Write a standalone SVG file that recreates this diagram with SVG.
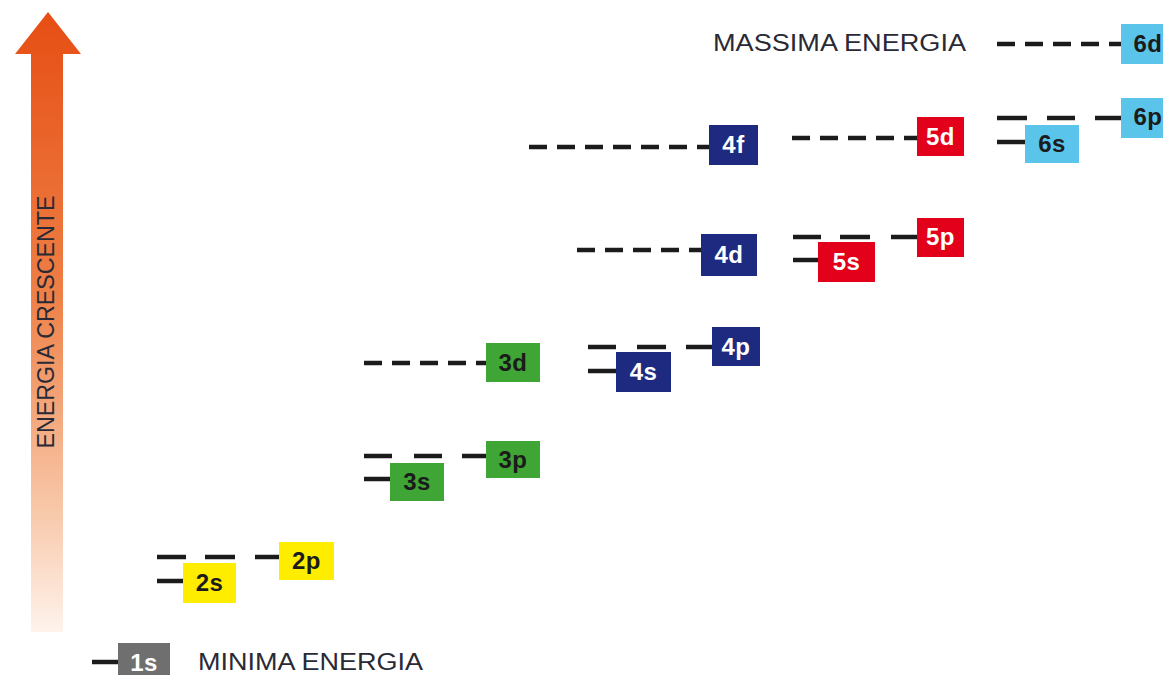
<svg xmlns="http://www.w3.org/2000/svg" width="1163" height="675" viewBox="0 0 1163 675">
  <defs>
    <linearGradient id="arrowFill" x1="0" y1="0" x2="0" y2="1">
      <stop offset="0" stop-color="#e64e14"/>
      <stop offset="0.45" stop-color="#ee7f45"/>
      <stop offset="0.8" stop-color="#f8c7a8"/>
      <stop offset="1" stop-color="#fef3ec"/>
    </linearGradient>
  </defs>
  <style>
    .lvl { stroke: #1b1b1b; stroke-width: 4.5; fill: none; }
    .dash { stroke-dasharray: 18 10; }
    .lab { font-family: "Liberation Sans", Arial, sans-serif; font-weight: bold; font-size: 24px; text-anchor: middle; letter-spacing: 0.5px; }
    .dark { fill: #1b1b1b; }
    .light { fill: #ffffff; }
    .cap { font-family: "Liberation Sans", Arial, sans-serif; font-size: 23px; fill: #2a2a36; }
    .b1 { fill: #6f6f6f; }
    .b2 { fill: #ffed00; }
    .b3 { fill: #3fa535; }
    .b4 { fill: #1d2a80; }
    .b5 { fill: #e2001a; }
    .b6 { fill: #5bc4ea; }
  </style>

  <rect width="1163" height="675" fill="#ffffff"/>

  <!-- energy axis -->
  <g id="axis">
    <path d="M31 632 V54 H15 L48 12 L81 54 H63 V632 Z" fill="url(#arrowFill)"/>
    <text class="cap" transform="translate(54 322) rotate(-90)" text-anchor="middle" textLength="253" lengthAdjust="spacingAndGlyphs">ENERGIA CRESCENTE</text>
  </g>

  <!-- level lines -->
  <g id="connectors">
    <line class="lvl" x1="92" y1="662" x2="120" y2="662"/>
    <!-- n = 2 -->
    <line class="lvl" x1="157" y1="557" x2="186" y2="557"/>
    <line class="lvl" x1="205" y1="557" x2="235" y2="557"/>
    <line class="lvl" x1="255" y1="557" x2="281" y2="557"/>
    <line class="lvl" x1="157" y1="581" x2="185" y2="581"/>
    <!-- n = 3 -->
    <line class="lvl" x1="364" y1="456" x2="392" y2="456"/>
    <line class="lvl" x1="414" y1="456" x2="442" y2="456"/>
    <line class="lvl" x1="462" y1="456" x2="488" y2="456"/>
    <line class="lvl" x1="364" y1="479" x2="392" y2="479"/>
    <line class="lvl dash" x1="364" y1="363" x2="488" y2="363"/>
    <!-- n = 4 -->
    <line class="lvl" x1="588" y1="347" x2="616" y2="347"/>
    <line class="lvl" x1="637" y1="347" x2="666" y2="347"/>
    <line class="lvl" x1="686" y1="347" x2="714" y2="347"/>
    <line class="lvl" x1="588" y1="371" x2="618" y2="371"/>
    <line class="lvl dash" x1="577" y1="250" x2="703" y2="250"/>
    <line class="lvl dash" x1="529" y1="147" x2="711" y2="147"/>
    <!-- n = 5 -->
    <line class="lvl" x1="793" y1="237" x2="821" y2="237"/>
    <line class="lvl" x1="840" y1="237" x2="870" y2="237"/>
    <line class="lvl" x1="891" y1="237" x2="919" y2="237"/>
    <line class="lvl" x1="793" y1="260" x2="820" y2="260"/>
    <line class="lvl dash" x1="792" y1="138" x2="919" y2="138"/>
    <!-- n = 6 -->
    <line class="lvl" x1="997" y1="118" x2="1027" y2="118"/>
    <line class="lvl" x1="1047" y1="118" x2="1075" y2="118"/>
    <line class="lvl" x1="1095" y1="118" x2="1123" y2="118"/>
    <line class="lvl" x1="997" y1="142" x2="1027" y2="142"/>
    <line class="lvl dash" x1="997" y1="44" x2="1123" y2="44"/>
  </g>

  <g id="n1s"><rect class="b1" x="118" y="643" width="52" height="40"/><text class="lab light" x="144" y="671">1s</text></g>
  <g id="n2s"><rect class="b2" x="183" y="563" width="53" height="40"/><text class="lab dark" x="209.5" y="591">2s</text></g>
  <g id="n2p"><rect class="b2" x="279" y="542" width="55" height="38"/><text class="lab dark" x="306.5" y="569">2p</text></g>
  <g id="n3s"><rect class="b3" x="390" y="463" width="54" height="38"/><text class="lab dark" x="417" y="490">3s</text></g>
  <g id="n3p"><rect class="b3" x="486" y="441" width="54" height="37"/><text class="lab dark" x="513" y="468">3p</text></g>
  <g id="n3d"><rect class="b3" x="486" y="343" width="54" height="39"/><text class="lab dark" x="513" y="371">3d</text></g>
  <g id="n4s"><rect class="b4" x="616" y="352" width="55" height="40"/><text class="lab light" x="643.5" y="380">4s</text></g>
  <g id="n4p"><rect class="b4" x="712" y="327" width="48" height="39"/><text class="lab light" x="736" y="355">4p</text></g>
  <g id="n4d"><rect class="b4" x="701" y="234" width="56" height="42"/><text class="lab light" x="729" y="263">4d</text></g>
  <g id="n4f"><rect class="b4" x="709" y="125" width="49" height="40"/><text class="lab light" x="733.5" y="153">4f</text></g>
  <g id="n5s"><rect class="b5" x="818" y="242" width="57" height="40"/><text class="lab light" x="846.5" y="270">5s</text></g>
  <g id="n5p"><rect class="b5" x="917" y="218" width="47" height="39"/><text class="lab light" x="940.5" y="245">5p</text></g>
  <g id="n5d"><rect class="b5" x="917" y="117" width="47" height="39"/><text class="lab light" x="940.5" y="145">5d</text></g>
  <g id="n6s"><rect class="b6" x="1025" y="125" width="54" height="38"/><text class="lab dark" x="1052" y="152">6s</text></g>
  <g id="n6p"><rect class="b6" x="1121" y="98" width="56" height="40"/><text class="lab dark" x="1148" y="125">6p</text></g>
  <g id="n6d"><rect class="b6" x="1121" y="24" width="56" height="40"/><text class="lab dark" x="1148" y="52">6d</text></g>

  <g id="captions">
    <text class="cap" x="198" y="670" textLength="225" lengthAdjust="spacingAndGlyphs">MINIMA ENERGIA</text>
    <text class="cap" x="713" y="51" textLength="253" lengthAdjust="spacingAndGlyphs">MASSIMA ENERGIA</text>
  </g>
</svg>
